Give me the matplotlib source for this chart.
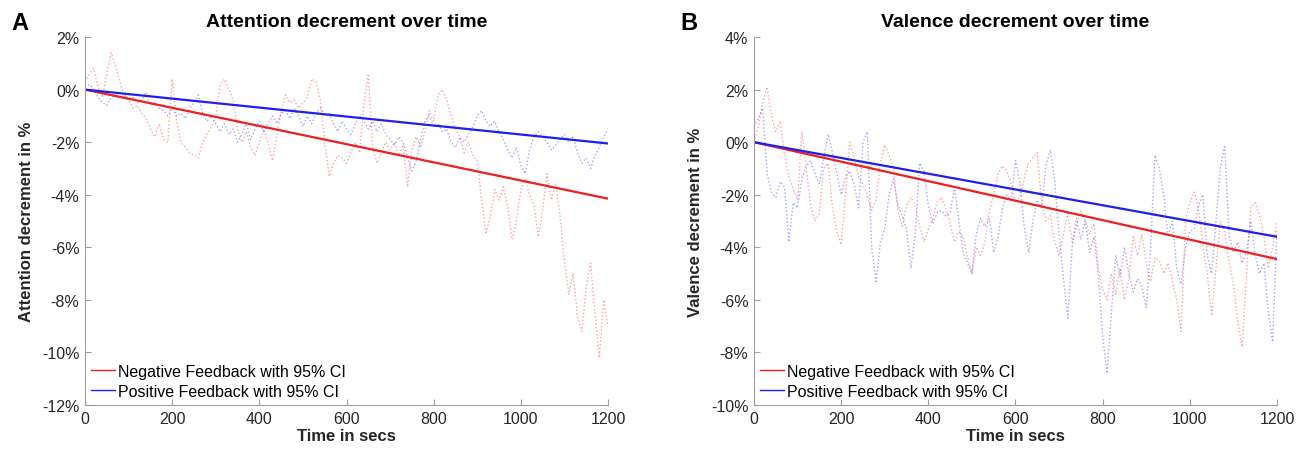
import numpy as np
import matplotlib.pyplot as plt
from matplotlib.lines import Line2D

plt.rcParams['font.family'] = ['Liberation Sans', 'DejaVu Sans']

# time axis (secs), one reading every 10 s
time = np.arange(0, 1201, 10)

# Attention decrement (%)
att_negative = [0.3, 0.6, 0.8, 0.1, -0.3, 0.6, 1.4, 0.9, 0.3, -0.3,
                -0.4, -0.7, -0.6, -0.9, -1.1, -1.5, -1.8, -1.3, -1.9, -2.0,
                0.4, -1.2, -2.0, -2.2, -2.4, -2.5, -2.6, -2.0, -1.7, -1.4,
                -1.0, 0.2, 0.4, 0.0, -0.4, -1.5, -2.0, -1.6, -2.2, -2.5,
                -2.0, -1.5, -2.0, -2.7, -1.8, -0.8, -0.2, -0.5, -0.4, -0.7,
                -0.5, -0.3, 0.4, 0.3, -0.4, -2.0, -3.3, -2.8, -2.5, -2.6,
                -2.8, -2.4, -2.0, -2.4, -0.5, 0.6, -2.2, -2.8, -2.4, -2.0,
                -2.3, -2.0, -2.5, -2.1, -3.7, -2.3, -1.8, -2.2, -1.6, -0.8,
                -1.2, -0.2, 0.0, -0.4, -1.0, -1.5, -1.8, -2.4, -2.0, -2.5,
                -2.7, -4.2, -5.5, -4.8, -3.8, -4.2, -3.7, -4.5, -5.7, -5.0,
                -3.8, -3.4, -4.0, -4.4, -5.6, -4.6, -3.2, -4.2, -3.6, -4.8,
                -6.5, -7.8, -7.0, -8.6, -9.2, -7.5, -6.6, -8.5, -10.2, -8.0,
                -9.0]
att_positive = [0.1, 0.2, 0.0, -0.3, -0.5, -0.6, -0.3, -0.2, -0.3, -0.2,
                -0.4, -0.3, -0.5, -0.4, -0.1, -0.6, -0.5, -0.7, -0.8, -1.0,
                -0.7, -1.0, -0.9, -1.1, -0.7, -0.5, -0.2, -0.9, -1.2, -1.0,
                -1.3, -1.6, -1.3, -1.7, -1.5, -2.0, -1.7, -1.3, -1.9, -1.5,
                -1.2, -1.6, -1.3, -1.0, -1.3, -0.9, -0.8, -1.1, -0.7, -1.0,
                -1.4, -1.0, -1.3, -0.9, -0.7, -1.0, -0.9, -1.3, -1.6, -1.2,
                -1.5, -1.7, -1.3, -1.0, -1.2, -1.5, -1.2, -1.6, -1.3, -1.7,
                -1.9, -2.1, -1.8, -2.0, -2.6, -3.1, -2.7, -1.9, -1.2, -1.0,
                -1.4, -1.3, -1.6, -1.5, -2.0, -2.2, -1.8, -2.0, -1.7, -1.4,
                -1.0, -0.8, -1.2, -1.4, -1.2, -1.6, -1.9, -2.3, -2.6, -2.2,
                -2.9, -3.2, -2.3, -1.8, -1.6, -1.8, -2.0, -2.3, -2.1, -1.9,
                -1.7, -2.0, -1.8, -2.4, -2.8, -2.6, -3.0, -2.5, -2.2, -1.8,
                -1.5]

# Valence decrement (%)
val_negative = [0.0, 0.6, 1.5, 2.1, 1.0, 0.4, 0.8, -0.5, -1.3, -1.8,
                -2.2, 0.4, -1.0, -2.4, -3.0, -2.7, -1.0, -0.8, -2.5, -3.4,
                -3.9, -2.0, 0.0, -0.6, -1.3, -1.6, -2.0, -2.6, -2.2, -0.8,
                -0.1, -0.5, -1.0, -2.6, -3.2, -2.4, -2.1, -2.4, -3.2, -3.8,
                -3.3, -2.9, -2.3, -2.1, -2.5, -3.1, -3.8, -3.4, -3.6, -4.4,
                -5.0, -4.0, -4.3, -3.8, -2.6, -2.0, -1.2, -0.9, -1.1, -1.6,
                -2.3, -2.1, -1.4, -0.8, -0.6, -0.4, -2.3, -3.0, -2.8, -3.8,
                -4.3, -3.5, -2.7, -3.8, -3.2, -2.6, -3.0, -3.5, -3.1, -4.8,
                -5.6, -6.0, -5.0, -5.8, -4.8, -6.0, -5.2, -3.6, -4.3, -3.5,
                -4.6, -5.3, -4.4, -4.5, -5.0, -4.6, -5.3, -6.0, -7.2, -3.0,
                -2.3, -1.9, -2.5, -4.0, -5.0, -6.6, -4.8, -3.0, -3.4, -4.6,
                -5.4, -6.8, -7.8, -5.0, -2.5, -2.3, -2.8, -3.6, -4.8, -4.0,
                -3.0]
val_positive = [0.6, 0.9, 1.3, -1.2, -1.9, -2.1, -1.5, -1.7, -3.8, -2.3,
                -2.5, -1.4, -0.9, -0.7, -1.2, -1.6, -0.6, 0.3, -0.4, -1.2,
                -2.0, -1.3, -1.1, -1.6, -2.5, 0.0, 0.4, -4.0, -5.3, -3.8,
                -3.3, -2.0, -1.4, -2.4, -2.8, -3.3, -4.8, -3.5, -0.8, -1.1,
                -2.4, -3.1, -2.7, -2.6, -2.8, -2.7, -1.7, -3.0, -4.2, -4.6,
                -5.0, -3.5, -2.9, -3.2, -2.9, -4.2, -3.6, -2.5, -2.0, -2.2,
                -0.7, -1.5, -3.2, -4.2, -3.0, -2.2, -2.5, -0.9, -0.3, -1.5,
                -3.5, -5.2, -6.7, -4.0, -2.9, -3.7, -3.0, -4.2, -3.6, -5.0,
                -7.4, -8.8, -6.5, -4.3, -5.1, -4.0, -5.0, -5.7, -5.2, -5.5,
                -6.3, -4.0, -0.5, -1.0, -2.0, -3.6, -3.0, -4.8, -5.4, -4.0,
                -3.4, -3.3, -2.4, -2.0, -4.3, -5.0, -3.0, -1.0, -0.1, -3.5,
                -4.2, -3.8, -4.6, -4.2, -3.0, -4.3, -5.0, -4.6, -6.5, -7.6,
                -3.3]

# fitted trend: value (%) reached at 1200 s, starting from 0
att_fit_end = [-4.15, -2.05]   # negative, positive
val_fit_end = [-4.45, -3.6]

panels = [
    ('A', 'Attention decrement over time', 'Attention decrement in %',
     att_negative, att_positive, att_fit_end, (-12, 2)),
    ('B', 'Valence decrement over time', 'Valence decrement in %',
     val_negative, val_positive, val_fit_end, (-10, 4)),
]

red = '#f01e1e'
blue = '#1e1ef0'
grey = '#262626'

fig = plt.figure(figsize=(13, 4.52), dpi=100)
lefts = [0.0654, 0.58]

for left, (letter, title, ylabel, neg, pos, fit_end, ylim) in zip(lefts, panels):
    ax = fig.add_axes([left, 0.1018, 0.4023, 0.814])
    ax.plot(time, neg, ls=(0, (1, 1.6)), lw=1.0, color=red, alpha=0.4)
    ax.plot(time, pos, ls=(0, (1, 1.6)), lw=1.0, color=blue, alpha=0.4)
    ax.plot([0, 1200], [0, fit_end[0]], color=red, lw=1.6)
    ax.plot([0, 1200], [0, fit_end[1]], color=blue, lw=1.6)

    ax.set_xlim(0, 1200)
    ax.set_ylim(*ylim)
    ax.set_xticks(np.arange(0, 1201, 200))
    yt = np.arange(ylim[0], ylim[1] + 1, 2)
    ax.set_yticks(yt)
    ax.set_yticklabels([f'{v}%' for v in yt])

    for s in ['top', 'right']:
        ax.spines[s].set_visible(False)
    for s in ['left', 'bottom']:
        ax.spines[s].set_color('#a0a0a0')
        ax.spines[s].set_linewidth(0.8)
    ax.tick_params(direction='in', length=4, width=0.8, color='#a0a0a0',
                   labelsize=11.5, labelcolor=grey, pad=4)

    ax.set_title(title, fontsize=14, fontweight='bold', pad=8)
    ax.set_xlabel('Time in secs', fontsize=12, fontweight='bold',
                  color=grey, labelpad=2)
    ax.set_ylabel(ylabel, fontsize=12, fontweight='bold', color=grey,
                  labelpad=6)

    handles = [Line2D([], [], color=red, lw=1.0),
               Line2D([], [], color=blue, lw=1.0)]
    ax.legend(handles, ['Negative Feedback with 95% CI',
                        'Positive Feedback with 95% CI'],
              loc='lower left', frameon=False, fontsize=11.5,
              handlelength=1.5, handletextpad=0.15, labelspacing=0.3,
              borderaxespad=0.2, borderpad=0.2)

    fig.text(left - 0.05, 0.947, letter, fontsize=17, fontweight='bold',
             ha='center', va='center')

fig.savefig('out.png', dpi=100)
